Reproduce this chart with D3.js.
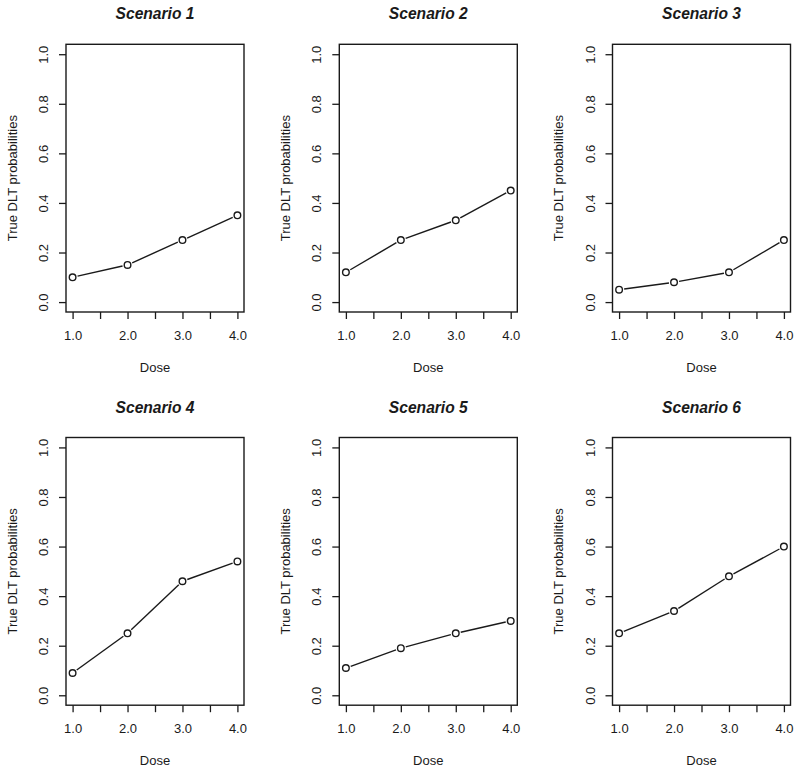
<!DOCTYPE html>
<html>
<head>
<meta charset="utf-8">
<script src="https://cdn.jsdelivr.net/npm/d3@7"></script>
<style>
  html, body { margin: 0; padding: 0; background: #fff; }
  svg { display: block; }
  text { font-family: "Liberation Sans", Arial, Helvetica, sans-serif; fill: #1a1a1a; }
</style>
</head>
<body>
<svg id="chart" width="800" height="772"></svg>
<script>
// ---- data ----
const doses = [1, 2, 3, 4];
const scenarioTitles = ["Scenario 1", "Scenario 2", "Scenario 3", "Scenario 4", "Scenario 5", "Scenario 6"];
const scenario1 = [0.10, 0.15, 0.25, 0.35];
const scenario2 = [0.12, 0.25, 0.33, 0.45];
const scenario3 = [0.05, 0.08, 0.12, 0.25];
const scenario4 = [0.09, 0.25, 0.46, 0.54];
const scenario5 = [0.11, 0.19, 0.25, 0.30];
const scenario6 = [0.25, 0.34, 0.48, 0.60];
const xTicks = [1, 1.5, 2, 2.5, 3, 3.5, 4];
const xTickLabels = ["1.0", "", "2.0", "", "3.0", "", "4.0"];
const yTicks = [0, 0.2, 0.4, 0.6, 0.8, 1.0];
const xLabel = "Dose";
const yLabel = "True DLT probabilities";

const allSeries = [scenario1, scenario2, scenario3, scenario4, scenario5, scenario6];

// ---- layout ----
const colX = [66, 339.3, 612.5];
const rowY = [44.3, 437.5];
const boxW = 178, boxH = 267.7;
const FS = 13;

const svg = d3.select("#chart");

allSeries.forEach((vals, i) => {
  const col = i % 3, row = Math.floor(i / 3);
  const g = svg.append("g").attr("transform", `translate(${colX[col]},${rowY[row]})`);

  // R-style 4% axis extension
  const x = d3.scaleLinear().domain([1 - 0.12, 4 + 0.12]).range([0, boxW]);
  const y = d3.scaleLinear().domain([0 - 0.04, 1 + 0.04]).range([boxH, 0]);

  // box
  g.append("rect").attr("x", 0).attr("y", 0).attr("width", boxW).attr("height", boxH)
    .attr("fill", "none").attr("stroke", "#1a1a1a").attr("stroke-width", 1.4);

  // x axis
  const xAxis = d3.axisBottom(x).tickValues(xTicks).tickSize(7).tickSizeOuter(0)
    .tickFormat((d, j) => xTickLabels[j]).tickPadding(12);
  const gx = g.append("g").attr("transform", `translate(0,${boxH})`).call(xAxis);
  gx.select(".domain").remove();
  gx.selectAll(".tick line").attr("stroke", "#1a1a1a").attr("stroke-width", 1.3);
  gx.selectAll(".tick text").attr("font-size", FS).attr("fill", "#1a1a1a")
    .attr("font-family", "Liberation Sans, Arial, sans-serif");

  // y axis
  const yAxis = d3.axisLeft(y).tickValues(yTicks).tickSize(7).tickSizeOuter(0)
    .tickFormat(d3.format(".1f"));
  const gy = g.append("g").call(yAxis);
  gy.select(".domain").remove();
  gy.selectAll(".tick line").attr("stroke", "#1a1a1a").attr("stroke-width", 1.3);
  gy.selectAll(".tick text")
    .attr("font-size", FS).attr("fill", "#1a1a1a")
    .attr("font-family", "Liberation Sans, Arial, sans-serif")
    .attr("x", null).attr("dy", null)
    .attr("text-anchor", "middle")
    .attr("transform", "translate(-18,0) rotate(-90)");

  // title
  g.append("text").attr("x", boxW / 2).attr("y", -25)
    .attr("text-anchor", "middle").attr("font-size", 15.6)
    .attr("font-weight", "bold").attr("font-style", "italic")
    .text(scenarioTitles[i]);

  // x label
  g.append("text").attr("x", boxW / 2).attr("y", boxH + 60)
    .attr("text-anchor", "middle").attr("font-size", FS).text(xLabel);

  // y label
  g.append("text")
    .attr("transform", `translate(-49.5,${boxH / 2}) rotate(-90)`)
    .attr("text-anchor", "middle").attr("font-size", FS).text(yLabel);

  // points & gapped line segments (R type = "b")
  const pts = doses.map((d, j) => [x(d), y(vals[j])]);
  const r = 3.3, gap = r + 1.8;
  for (let j = 0; j < pts.length - 1; j++) {
    const [x1, y1] = pts[j], [x2, y2] = pts[j + 1];
    const len = Math.hypot(x2 - x1, y2 - y1);
    const ux = (x2 - x1) / len, uy = (y2 - y1) / len;
    g.append("line")
      .attr("x1", x1 + ux * gap).attr("y1", y1 + uy * gap)
      .attr("x2", x2 - ux * gap).attr("y2", y2 - uy * gap)
      .attr("stroke", "#1a1a1a").attr("stroke-width", 1.4);
  }
  g.selectAll("circle.pt").data(doses).enter().append("circle")
    .attr("class", "pt")
    .attr("cx", d => x(d)).attr("cy", (d, j) => y(vals[j]))
    .attr("r", r).attr("fill", "none").attr("stroke", "#1a1a1a").attr("stroke-width", 1.4);
});
</script>
</body>
</html>
